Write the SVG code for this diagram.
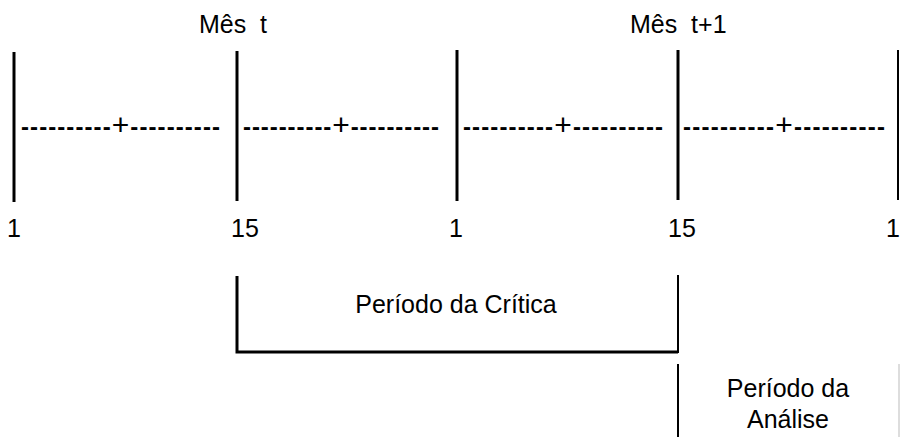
<svg xmlns="http://www.w3.org/2000/svg" width="900" height="437" viewBox="0 0 900 437">
<style>
  text { font-family: "Liberation Sans", Arial, sans-serif; fill: #000; }
  .lbl { font-size: 25px; }
  .hdr { font-size: 25px; white-space: pre; }
  .num { font-size: 25px; }
  .dash { font-size: 24px; font-weight: bold; }
  .plus { font-size: 30px; font-weight: normal; }
  .tick { stroke: #000; stroke-width: 3; fill: none; }
  .thin { stroke: #000; stroke-width: 2; fill: none; }
</style>
<rect width="900" height="437" fill="#fff"/>
<g id="headers">
  <text class="hdr" x="199" y="33" xml:space="preserve">Mês  t</text>
  <text class="hdr" x="630" y="33" xml:space="preserve">Mês  t+1</text>
</g>
<g id="connectors">
  <line class="tick" x1="14" y1="52" x2="14" y2="202"/>
  <line class="tick" x1="237" y1="51" x2="237" y2="201"/>
  <line class="tick" x1="457" y1="50" x2="457" y2="201"/>
  <line class="tick" x1="678" y1="50" x2="678" y2="200"/>
  <line class="thin" x1="898" y1="50" x2="898" y2="200"/>
  <polyline class="tick" points="237,276 237,352 678,352"/>
  <line class="thin" x1="678" y1="275" x2="678" y2="353"/>
  <line class="thin" x1="678" y1="364" x2="678" y2="437"/>
  <line x1="899" y1="364" x2="899" y2="437" stroke="#bbb" stroke-width="1"/>
</g>
<g id="segments">
  <text class="dash" x="21" y="135" textLength="199" lengthAdjust="spacing">----------<tspan class="plus">+</tspan>----------</text>
  <text class="dash" x="243" y="135" textLength="196" lengthAdjust="spacing">----------<tspan class="plus">+</tspan>----------</text>
  <text class="dash" x="463" y="135" textLength="200" lengthAdjust="spacing">----------<tspan class="plus">+</tspan>----------</text>
  <text class="dash" x="683" y="135" textLength="202" lengthAdjust="spacing">----------<tspan class="plus">+</tspan>----------</text>
</g>
<g id="days">
  <text class="num" x="7" y="237">1</text>
  <text class="num" x="231" y="237">15</text>
  <text class="num" x="449" y="237">1</text>
  <text class="num" x="668" y="237">15</text>
  <text class="num" x="886" y="237">1</text>
</g>
<g id="periodo-critica">
  <text class="lbl" x="456" y="313" text-anchor="middle">Período da Crítica</text>
</g>
<g id="periodo-analise">
  <text class="lbl" x="788" y="397" text-anchor="middle">Período da</text>
  <text class="lbl" x="788" y="428" text-anchor="middle">Análise</text>
</g>
</svg>
